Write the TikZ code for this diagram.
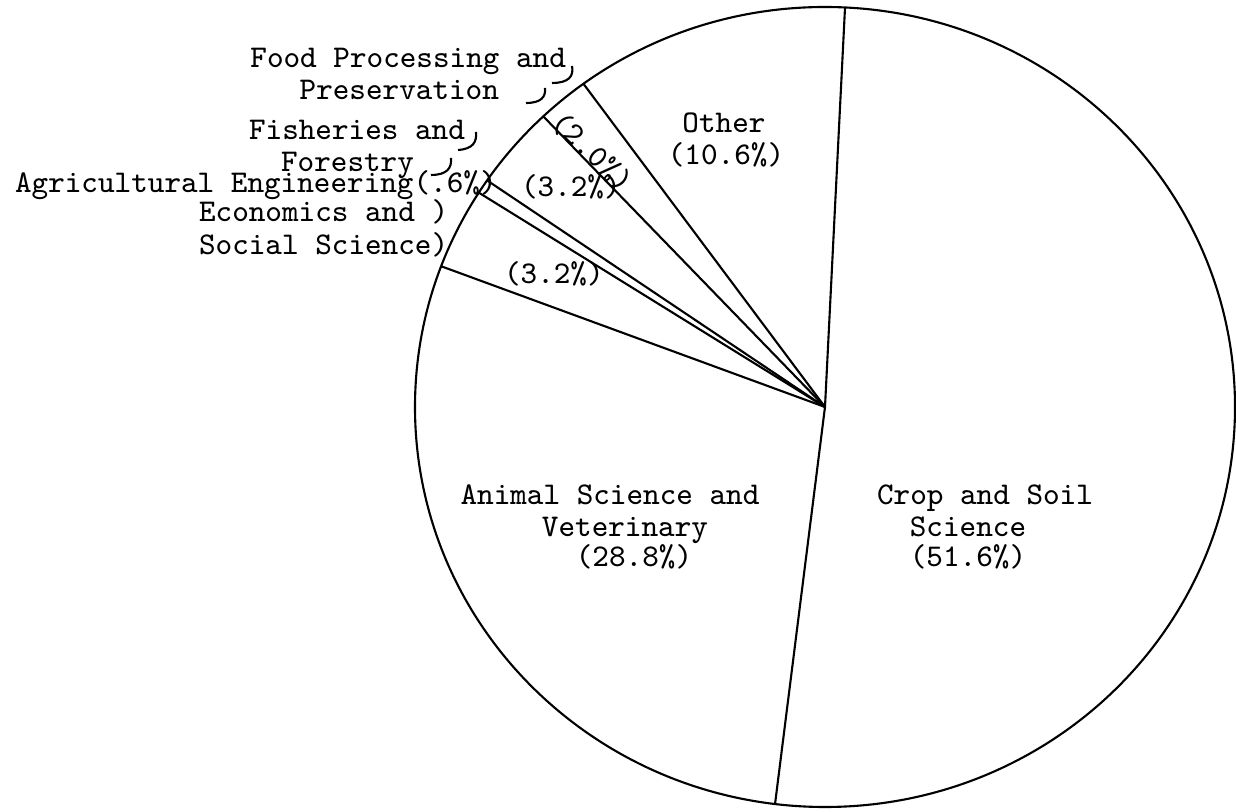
\documentclass[tikz,border=0pt]{standalone}
\begin{document}
\begin{tikzpicture}[line width=0.6pt,
  lbl/.style={font=\ttfamily\fontsize{9}{9}\selectfont, inner sep=0pt}]
\useasboundingbox (-8.25,-4.05) rectangle (4.11,4.07);
\coordinate (c) at (0,0);
\draw (c) ellipse [x radius=4.1, y radius=4.0];
\coordinate (crop) at (87.2:4.1cm and 4.0cm);
\coordinate (other) at (126.1:4.1cm and 4.0cm);
\coordinate (food) at (133.4:4.1cm and 4.0cm);
\coordinate (fish) at (145.5:4.1cm and 4.0cm);
\coordinate (agri) at (147.6:4.1cm and 4.0cm);
\coordinate (econ) at (159.4:4.1cm and 4.0cm);
\coordinate (animal) at (263:4.1cm and 4.0cm);
\draw (c) -- (crop);
\draw (c) -- (other);
\draw (c) -- (food);
\draw (c) -- (fish);
\draw (c) -- (agri);
\draw (c) -- (econ);
\draw (c) -- (animal);
\node[lbl, anchor=base east] (foodA) at (-2.58,3.39) {Food Processing and};
\node[lbl, anchor=base east] (foodB) at (-3.25,3.07) {Preservation};
\node[lbl, anchor=base east] (fishA) at (-3.59,2.67) {Fisheries and};
\node[lbl, anchor=base east] (fishB) at (-4.10,2.35) {Forestry};
\node[lbl, anchor=base west] (agriA) at (-8.11,2.14) {Agricultural Engineering(.6\%)};
\node[lbl, anchor=base west] (econA) at (-6.27,1.85) {Economics and )};
\node[lbl, anchor=base west] (econB) at (-6.27,1.52) {Social Science)};
\node[lbl, rotate=-44] (foodP) at (-2.33,2.55) {(2.0\%)};
\node[lbl, anchor=base west] (fishP) at (-3.05,2.10) {(3.2\%)};
\node[lbl, anchor=base west] (econP) at (-3.22,1.23) {(3.2\%)};
\node[lbl, anchor=base] (otherA) at (-1.01,2.74) {Other};
\node[lbl, anchor=base] (otherP) at (-0.99,2.42) {(10.6\%)};
\node[lbl, anchor=base] (animalA) at (-2.15,-0.98) {Animal Science and};
\node[lbl, anchor=base] (animalB) at (-2.00,-1.30) {Veterinary};
\node[lbl, anchor=base] (animalP) at (-1.91,-1.60) {(28.8\%)};
\node[lbl, anchor=base] (cropA) at (1.60,-0.98) {Crop and Soil};
\node[lbl, anchor=base] (cropB) at (1.43,-1.30) {Science};
\node[lbl, anchor=base] (cropP) at (1.43,-1.60) {(51.6\%)};
\draw (-2.53,3.41) .. controls (-2.51,3.31) and (-2.56,3.24) .. (-2.73,3.24);
\draw (-2.80,3.19) .. controls (-2.79,3.10) and (-2.84,3.04) .. (-2.99,3.04);
\draw (-3.49,2.75) .. controls (-3.48,2.65) and (-3.52,2.58) .. (-3.67,2.57);
\draw (-3.74,2.49) .. controls (-3.73,2.39) and (-3.78,2.32) .. (-3.94,2.32);
\end{tikzpicture}
\end{document}
